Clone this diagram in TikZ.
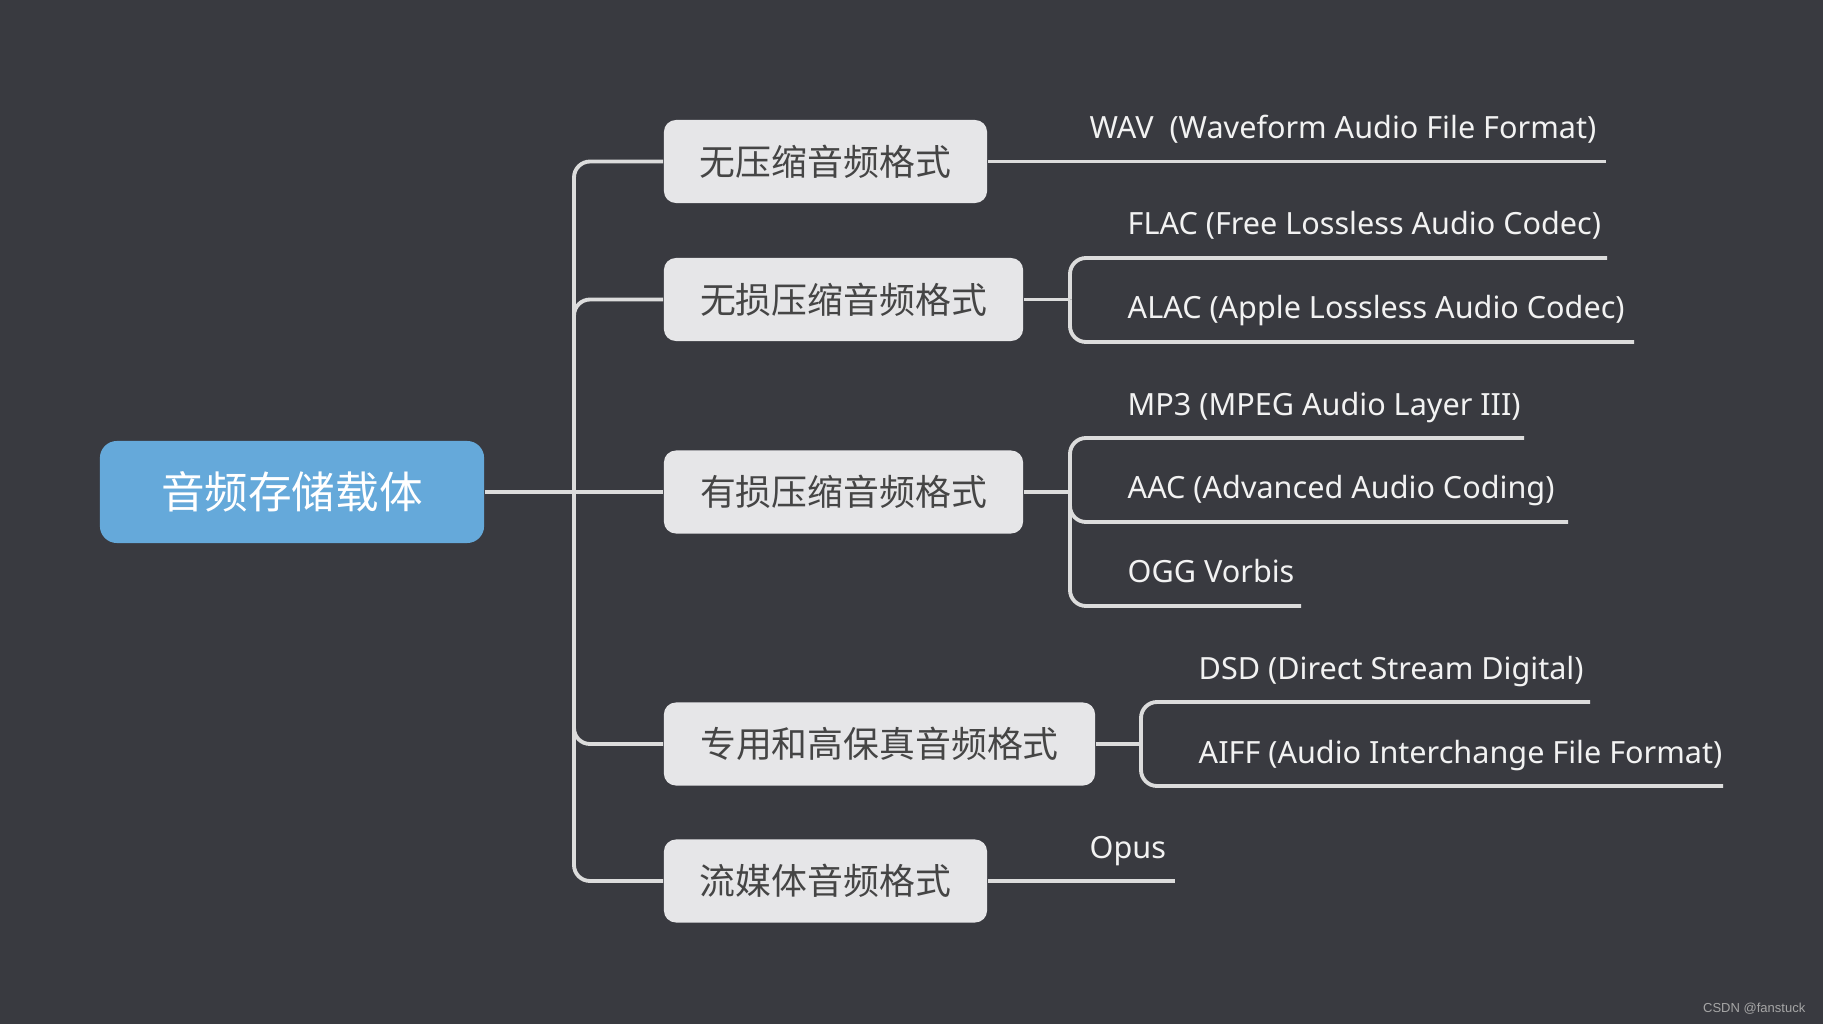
\documentclass[tikz,border=0pt]{standalone}
\usepackage{fontspec}
\setmainfont{Noto Sans}
\newfontfamily\cjkfont{Noto Sans CJK SC}
\newfontfamily\wmfont{Liberation Sans}
\definecolor{bg}{HTML}{393A40}
\definecolor{rootblue}{HTML}{65A9DA}
\definecolor{boxgray}{HTML}{E6E6E8}
\definecolor{boxtext}{HTML}{454545}
\definecolor{linegray}{HTML}{DCDCDC}
\definecolor{leaftext}{HTML}{F2F2F2}
\begin{document}
\begin{tikzpicture}[x=0.01cm,y=-0.01cm,
  rootbox/.style={rectangle, rounded corners=0.17cm, fill=rootblue, text=white,
    minimum width=3.84cm, minimum height=1.02cm, inner sep=0pt,
    font=\cjkfont\fontsize{12.4pt}{14pt}\selectfont},
  catbox/.style={rectangle, rounded corners=0.12cm, fill=boxgray, text=boxtext,
    minimum height=0.83cm, inner sep=0pt,
    font=\cjkfont\fontsize{10.2pt}{12pt}\selectfont},
  conn/.style={draw=linegray, line width=1.1pt, rounded corners=0.16cm},
  leaf/.style={anchor=base west, text=leaftext, inner sep=0pt,
    font=\fontsize{8.7pt}{10pt}\selectfont}]
\fill[bg] (0,0) rectangle (1823,1024);
\useasboundingbox (0,0) rectangle (1823,1024);

% root
\node[rootbox] (root) at (292,492) {音频存储载体};
\coordinate (j) at (574,492);

% categories
\node[catbox, minimum width=3.23cm] (b1) at (825.5,161.5) {无压缩音频格式};
\node[catbox, minimum width=3.59cm] (b2) at (843.5,299.5) {无损压缩音频格式};
\node[catbox, minimum width=3.59cm] (b3) at (843.5,492) {有损压缩音频格式};
\node[catbox, minimum width=4.31cm] (b4) at (879.5,744) {专用和高保真音频格式};
\node[catbox, minimum width=3.23cm] (b5) at (825.5,881) {流媒体音频格式};

\draw[conn] (root.east) -- (j);
\draw[conn] (j) |- (b1.west);
\draw[conn] (j) |- (b2.west);
\draw[conn] (j) -- (b3.west);
\draw[conn] (j) |- (b4.west);
\draw[conn] (j) |- (b5.west);

% leaves
\node[leaf] (wav) at (1089,138) {WAV\ \ (Waveform Audio File Format)};
\node[leaf] (flac) at (1127,235) {FLAC (Free Lossless Audio Codec)};
\node[leaf] (alac) at (1127,318) {ALAC (Apple Lossless Audio Codec)};
\node[leaf] (mp3) at (1127,415) {MP3 (MPEG Audio Layer III)};
\node[leaf] (aac) at (1127,498) {AAC (Advanced Audio Coding)};
\node[leaf] (ogg) at (1127,582) {OGG Vorbis};
\node[leaf] (dsd) at (1198,679) {DSD (Direct Stream Digital)};
\node[leaf] (aiff) at (1198,763) {AIFF (Audio Interchange File Format)};
\node[leaf] (opus) at (1089,858) {Opus};

% line ends and junctions
\coordinate (wavE) at (1606,161.5);
\coordinate (k2) at (1070,299.5);
\coordinate (flacE) at (1607,258);
\coordinate (alacE) at (1634,342);
\coordinate (k3) at (1070,492);
\coordinate (mp3E) at (1524,438);
\coordinate (aacE) at (1568,522);
\coordinate (oggE) at (1301,606);
\coordinate (k4) at (1141,744);
\coordinate (dsdE) at (1590,702);
\coordinate (aiffE) at (1723,786);
\coordinate (opusE) at (1175,881);

\draw[conn] (b1.east) -- (wavE);
\draw[conn] (b2.east) -- (k2);
\draw[conn] (k2) |- (flacE);
\draw[conn] (k2) |- (alacE);
\draw[conn] (b3.east) -- (k3);
\draw[conn] (k3) |- (mp3E);
\draw[conn] (k3) |- (aacE);
\draw[conn] (k3) |- (oggE);
\draw[conn] (b4.east) -- (k4);
\draw[conn] (k4) |- (dsdE);
\draw[conn] (k4) |- (aiffE);
\draw[conn] (b5.east) -- (opusE);

% watermark
\node[anchor=base east, text=gray!70, inner sep=0pt,
  font=\wmfont\fontsize{3.7pt}{4pt}\selectfont] (wm) at (1806,1012) {CSDN @fanstuck};
\end{tikzpicture}
\end{document}
